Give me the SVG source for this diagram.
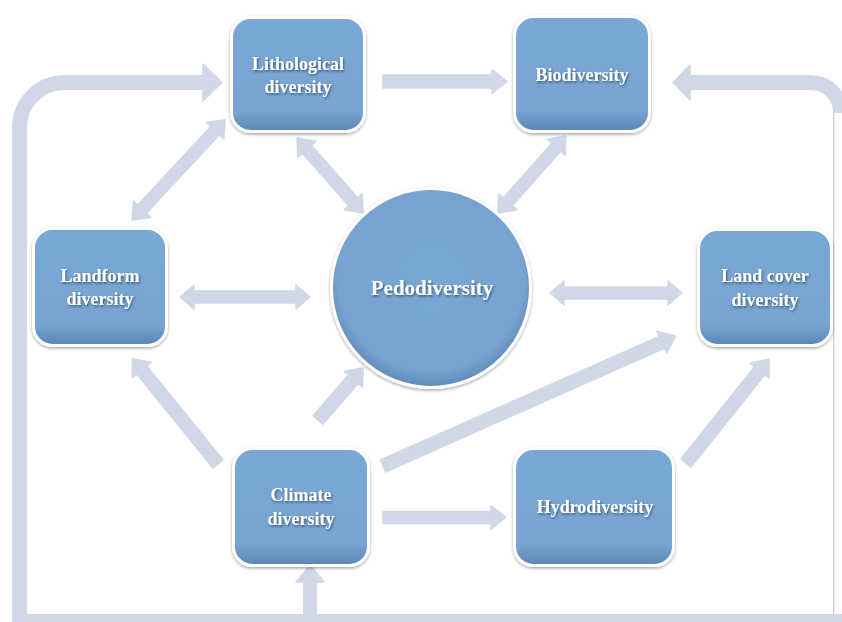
<svg xmlns="http://www.w3.org/2000/svg" width="842" height="622" viewBox="0 0 842 622">
<defs>
<linearGradient id="nodeFill" x1="0" y1="0" x2="0" y2="1">
<stop offset="0" stop-color="#7aa8d4"/>
<stop offset="0.82" stop-color="#77a4d0"/>
<stop offset="1" stop-color="#5b85b6"/>
</linearGradient>
<radialGradient id="circFill" cx="0.5" cy="0.45" r="0.55">
<stop offset="0" stop-color="#79a7d3"/>
<stop offset="0.85" stop-color="#76a3cf"/>
<stop offset="1" stop-color="#5f89ba"/>
</radialGradient>
<filter id="nodeShadow" x="-10%" y="-10%" width="120%" height="125%">
<feDropShadow dx="0" dy="1.5" stdDeviation="1.6" flood-color="#000" flood-opacity="0.35"/>
</filter>
<filter id="textShadow" x="-10%" y="-30%" width="120%" height="160%">
<feDropShadow dx="1" dy="1.5" stdDeviation="0.9" flood-color="#1c3350" flood-opacity="0.7"/>
</filter>
</defs>
<style>
.band{fill:none;stroke:#d0d7e6;stroke-width:15}
.arr{fill:#d0d7e6;stroke:#d0d7e6;stroke-width:1.5;stroke-linejoin:round}
.box{fill:url(#nodeFill);stroke:#ffffff;stroke-width:3;filter:url(#nodeShadow)}
.circ{fill:url(#circFill);stroke:#ffffff;stroke-width:3;filter:url(#nodeShadow)}
.lbl{font-family:"Liberation Serif","Times New Roman",serif;font-weight:bold;font-size:18px;fill:#ffffff;text-anchor:middle;filter:url(#textShadow)}
.big{font-size:21px}
</style>
<rect width="842" height="622" fill="#ffffff"/>
<g id="connectors">
<!-- outer frame feedback arrows -->
<rect x="12" y="614" width="830" height="8" fill="#d0d7e6"/>
<path class="band" d="M19.5 622 V127.5 A45 45 0 0 1 64.5 82.5 H204"/>
<polygon class="arr" points="203,64 222,82.5 203,101"/>
<path class="band" d="M840.5 614 V112 A29.5 29.5 0 0 0 811 82.5 H689"/>
<polygon class="arr" points="690,65 673,82.5 690,100"/>
<rect x="834.5" y="113" width="8" height="501" fill="#ffffff"/>
<line x1="833.5" y1="113" x2="833.5" y2="614" stroke="#c9d0de" stroke-width="1"/>
<rect x="303" y="580" width="14" height="36" fill="#d0d7e6"/>
<polygon class="arr" points="296,582 310,565 324,582"/>
<!-- inner arrows -->
<g transform="translate(383,81.5)"><polygon class="arr" points="0,-6.5 109,-6.5 109,-12 124,0 109,12 109,6.5 0,6.5"/></g>
<g transform="translate(180,297)"><polygon class="arr" points="0,0 14,-12 14,-6 116,-6 116,-12 130,0 116,12 116,6 14,6 14,12"/></g>
<g transform="translate(550,293)"><polygon class="arr" points="0,0 14,-12 14,-6 118,-6 118,-12 132,0 118,12 118,6 14,6 14,12"/></g>
<g transform="translate(383,517.5)"><polygon class="arr" points="0,-6 108,-6 108,-12 123,0 108,12 108,6 0,6"/></g>
<g transform="translate(383,466) rotate(-23.93)"><polygon class="arr" points="0,-6.5 305,-6.5 305,-12 320,0 305,12 305,6.5 0,6.5"/></g>
<g transform="translate(686,463) rotate(-51.4)"><polygon class="arr" points="0,-6.5 118,-6.5 118,-12 133,0 118,12 118,6.5 0,6.5"/></g>
<g transform="translate(218,464) rotate(-129.05)"><polygon class="arr" points="0,-6.5 121,-6.5 121,-12 136,0 121,12 121,6.5 0,6.5"/></g>
<g transform="translate(318,420) rotate(-49.1)"><polygon class="arr" points="0,-6.5 54,-6.5 54,-12 69,0 54,12 54,6.5 0,6.5"/></g>
<g transform="translate(132,220) rotate(-47.08)"><polygon class="arr" points="0,0 15,-12 15,-6 122,-6 122,-12 137,0 122,12 122,6 15,6 15,12"/></g>
<g transform="translate(297,138) rotate(48.65)"><polygon class="arr" points="0,0 15,-12 15,-6 85,-6 85,-12 100,0 85,12 85,6 15,6 15,12"/></g>
<g transform="translate(566,136) rotate(131.45)"><polygon class="arr" points="0,0 15,-12 15,-6 88,-6 88,-12 103,0 88,12 88,6 15,6 15,12"/></g>
</g>
<g id="lithological">
<rect class="box" x="231.5" y="17.5" width="133" height="114" rx="19"/>
<text class="lbl" x="298" y="70">Lithological</text>
<text class="lbl" x="298" y="93">diversity</text>
</g>
<g id="biodiversity">
<rect class="box" x="514.5" y="16.5" width="135" height="115" rx="19"/>
<text class="lbl" x="582" y="81">Biodiversity</text>
</g>
<g id="landform">
<rect class="box" x="33.5" y="228.5" width="133" height="117" rx="19"/>
<text class="lbl" x="100" y="282">Landform</text>
<text class="lbl" x="100" y="305">diversity</text>
</g>
<g id="pedodiversity">
<circle class="circ" cx="431" cy="288" r="99.5"/>
<text class="lbl big" x="432" y="295">Pedodiversity</text>
</g>
<g id="landcover">
<rect class="box" x="698.5" y="229.5" width="133" height="116" rx="19"/>
<text class="lbl" x="765" y="282">Land cover</text>
<text class="lbl" x="765" y="306">diversity</text>
</g>
<g id="climate">
<rect class="box" x="233.5" y="448.5" width="135" height="117" rx="19"/>
<text class="lbl" x="301" y="501">Climate</text>
<text class="lbl" x="301" y="525">diversity</text>
</g>
<g id="hydrodiversity">
<rect class="box" x="514.5" y="448.5" width="159" height="117" rx="19"/>
<text class="lbl" x="595" y="513">Hydrodiversity</text>
</g>
</svg>
